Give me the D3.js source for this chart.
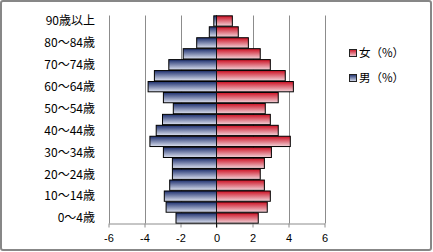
<!DOCTYPE html>
<html>
<head>
<meta charset="utf-8">
<script src="https://cdn.jsdelivr.net/npm/d3@7/dist/d3.min.js"></script>
<style>
  body { margin: 0; background: #fff; }
  text { font-family: "Noto Sans CJK JP", "Noto Sans", sans-serif; fill: #000; }
</style>
</head>
<body>
<div id="chart"></div>
<script>
// age groups, bottom to top
let ages = ['0～4歳','5～9歳','10～14歳','15～19歳','20～24歳','25～29歳','30～34歳','35～39歳',
  '40～44歳','45～49歳','50～54歳','55～59歳','60～64歳','65～69歳','70～74歳','75～79歳',
  '80～84歳','85～89歳','90歳以上'];
let male = [-2.25,-2.8,-2.9,-2.6,-2.45,-2.45,-2.95,-3.7,-3.35,-3.0,-2.4,-2.95,-3.8,-3.45,-2.65,-1.85,-1.1,-0.4,-0.15];
let female = [2.32,2.82,2.99,2.66,2.43,2.66,3.05,4.1,3.43,2.99,2.71,3.43,4.27,3.82,2.99,2.43,1.77,1.21,0.88];
let xTicks = [-6,-4,-2,0,2,4,6];
let seriesNames = ['女（%）','男（%）'];

const width = 433, height = 252;
const margin = ({top: 15.5, right: 108.5, bottom: 28.5, left: 108.5});

let svg = d3.select('#chart').append('svg')
  .attr('width', width).attr('height', height);

let defs = svg.append('defs');
function grad(id, c1, c2) {
  let g = defs.append('linearGradient').attr('id', id)
    .attr('x1', 0).attr('y1', 0).attr('x2', 0).attr('y2', 1);
  g.append('stop').attr('offset', '0%').attr('stop-color', c1);
  g.append('stop').attr('offset', '100%').attr('stop-color', c2);
}
grad('gBlue', '#1d2f6e', '#dde2f0');
grad('gRed', '#cc0f22', '#f2d4da');

// outer frame
svg.append('rect')
  .attr('x', 1).attr('y', 1).attr('width', width - 3).attr('height', height - 3)
  .attr('rx', 2)
  .attr('fill', '#fff').attr('stroke', '#878787').attr('stroke-width', 2);

let x = d3.scaleLinear().domain([-6, 6]).range([margin.left, 324.5]);
let y = d3.scaleBand().domain(ages)
  .range([height - margin.bottom, margin.top])
  .paddingInner(0.06).paddingOuter(0.03);

// grid lines
svg.append('g').selectAll('line')
  .data(xTicks.filter(d => d != 0))
  .enter().append('line')
  .attr('x1', d => Math.round(x(d)) + 0.5).attr('x2', d => Math.round(x(d)) + 0.5)
  .attr('y1', margin.top).attr('y2', height - margin.bottom)
  .attr('stroke', '#8c8c8c');

// x axis
let xAxis = d3.axisBottom(x).tickValues(xTicks).tickSize(4).tickSizeOuter(0);
let gx = svg.append('g')
  .attr('transform', `translate(0,${height - margin.bottom})`)
  .call(xAxis);
gx.select('.domain').attr('stroke', '#8c8c8c');
gx.selectAll('.tick line').attr('stroke', '#8c8c8c');
gx.selectAll('.tick text')
  .attr('font-size', 11).attr('dy', '1.05em')
  .style('font-family', '"Liberation Sans", sans-serif')
  .text(d => d);

// bars
svg.append('g').selectAll('rect')
  .data(ages)
  .enter().append('rect')
  .attr('x', (d, i) => x(male[i]))
  .attr('y', d => y(d))
  .attr('width', (d, i) => x(0) - x(male[i]))
  .attr('height', y.bandwidth())
  .attr('fill', 'url(#gBlue)').attr('stroke', '#000').attr('stroke-width', 1);

svg.append('g').selectAll('rect')
  .data(ages)
  .enter().append('rect')
  .attr('x', x(0))
  .attr('y', d => y(d))
  .attr('width', (d, i) => x(female[i]) - x(0))
  .attr('height', y.bandwidth())
  .attr('fill', 'url(#gRed)').attr('stroke', '#000').attr('stroke-width', 1);

// zero line
svg.append('line')
  .attr('x1', x(0)).attr('x2', x(0))
  .attr('y1', margin.top).attr('y2', height - margin.bottom + 4)
  .attr('stroke', '#111');

// y labels, every other group
svg.append('g').selectAll('text')
  .data(ages.filter((d, i) => i % 2 == 0))
  .enter().append('text')
  .attr('x', 95)
  .attr('y', d => y(d) + y.bandwidth() / 2)
  .attr('dy', '0.36em')
  .attr('text-anchor', 'end')
  .attr('font-size', 12)
  .text(d => d);

// legend
let legend = svg.append('g').attr('transform', 'translate(349,53)');
let colors = ['url(#gRed)', 'url(#gBlue)'];
seriesNames.forEach((s, i) => {
  let g = legend.append('g').attr('transform', `translate(0,${i * 25})`);
  g.append('rect')
    .attr('x', 0.5).attr('y', -3.5).attr('width', 7).attr('height', 7)
    .attr('fill', colors[i]).attr('stroke', '#222');
  g.append('text')
    .attr('x', 10).attr('y', 0).attr('dy', '0.36em')
    .attr('font-size', 11.5)
    .text(s);
});
</script>
</body>
</html>
